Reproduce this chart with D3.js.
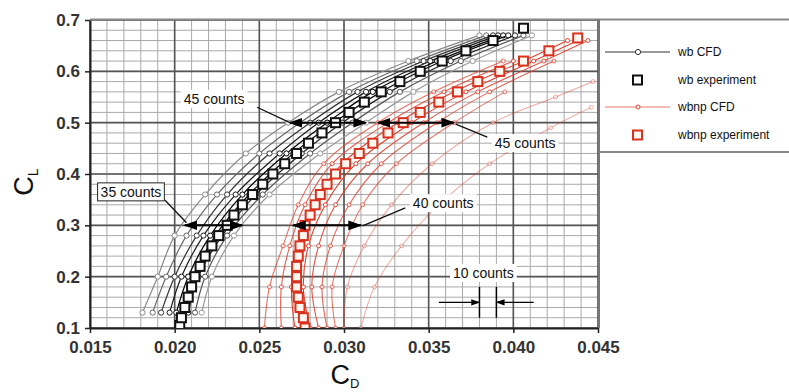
<!DOCTYPE html>
<html>
<head>
<meta charset="utf-8">
<script src="https://cdn.jsdelivr.net/npm/d3@7"></script>
<style>
  body { margin: 0; background: #fff; }
  svg { display: block; font-family: "Liberation Sans", Arial, sans-serif; }
</style>
</head>
<body>
<div id="chart"></div>
<script>
// axis ticks
const cdTicks = [0.015, 0.020, 0.025, 0.030, 0.035, 0.040, 0.045];
const cdLabels = ["0.015", "0.020", "0.025", "0.030", "0.035", "0.040", "0.045"];
const clTicks = [0.1, 0.2, 0.3, 0.4, 0.5, 0.6, 0.7];
const clLabels = ["0.1", "0.2", "0.3", "0.4", "0.5", "0.6", "0.7"];

// wb CFD polars (CL levels shared, CD per solution)
const wbCfdCL = [0.13, 0.20, 0.28, 0.36, 0.44, 0.50, 0.56, 0.62, 0.67];
const wbCfd1 = [0.0181, 0.0190, 0.0200, 0.0218, 0.0242, 0.0267, 0.0297, 0.0338, 0.0380];
const wbCfd2 = [0.0187, 0.0195, 0.0207, 0.0225, 0.0250, 0.0274, 0.0303, 0.0343, 0.0384];
const wbCfd3 = [0.0192, 0.0200, 0.0213, 0.0231, 0.0256, 0.0280, 0.0308, 0.0347, 0.0388];
const wbCfd4 = [0.0197, 0.0204, 0.0217, 0.0236, 0.0262, 0.0285, 0.0313, 0.0351, 0.0391];
const wbCfd5 = [0.0201, 0.0208, 0.0221, 0.0240, 0.0266, 0.0290, 0.0317, 0.0355, 0.0394];
const wbCfd6 = [0.0205, 0.0211, 0.0224, 0.0244, 0.0270, 0.0294, 0.0322, 0.0358, 0.0397];
const wbCfd7 = [0.0208, 0.0214, 0.0228, 0.0248, 0.0275, 0.0299, 0.0327, 0.0363, 0.0401];
const wbCfd8 = [0.0212, 0.0218, 0.0231, 0.0252, 0.0280, 0.0305, 0.0333, 0.0369, 0.0406];
const wbCfd9 = [0.0216, 0.0222, 0.0235, 0.0256, 0.0286, 0.0313, 0.0341, 0.0376, 0.0411];

// wb experiment
const wbExpCL = [0.105, 0.12, 0.14, 0.16, 0.18, 0.20, 0.22, 0.24, 0.26, 0.28, 0.30, 0.32, 0.34, 0.36, 0.38,
  0.40, 0.42, 0.44, 0.46, 0.48, 0.50, 0.52, 0.54, 0.56, 0.58, 0.60, 0.62, 0.64, 0.66, 0.684];
const wbExpCD = [0.0203, 0.0204, 0.0206, 0.0208, 0.0210, 0.0212, 0.0215, 0.0218, 0.0222, 0.0226, 0.0231, 0.0235, 0.0240, 0.0246, 0.0252,
  0.0258, 0.0265, 0.0272, 0.0279, 0.0287, 0.0295, 0.0303, 0.0312, 0.0322, 0.0333, 0.0345, 0.0358, 0.0372, 0.0388, 0.0406];

// wbnp CFD polars
const wbnpCfdCL = [0.10, 0.18, 0.26, 0.34, 0.42, 0.50, 0.56, 0.62, 0.66];
const wbnpCfd1 = [0.0253, 0.0256, 0.0264, 0.0273, 0.0288, 0.0320, 0.0353, 0.0394];
const wbnpCfd2 = [0.0263, 0.0263, 0.0268, 0.0277, 0.0293, 0.0326, 0.0359, 0.0400];
const wbnpCfd3 = [0.0271, 0.0269, 0.0273, 0.0282, 0.0299, 0.0332, 0.0365, 0.0406, 0.0432];
const wbnpCfd4 = [0.0280, 0.0276, 0.0279, 0.0289, 0.0307, 0.0340, 0.0372, 0.0412, 0.0438];
const wbnpCfd5 = [0.0285, 0.0281, 0.0285, 0.0295, 0.0314, 0.0347, 0.0379, 0.0418, 0.0444];
const wbnpCfd6 = [0.0290, 0.0287, 0.0292, 0.0303, 0.0322, 0.0355, 0.0386, 0.0424];
const wbnpCfd7 = [0.0295, 0.0293, 0.0300, 0.0311, 0.0331, 0.0365, 0.0395];
// two outlying solutions
const wbnpCfd8CL = [0.10, 0.18, 0.26, 0.34, 0.42, 0.50, 0.55, 0.58];
const wbnpCfd8 = [0.0300, 0.0302, 0.0312, 0.0328, 0.0352, 0.0388, 0.0425, 0.0447];
const wbnpCfd9CL = [0.10, 0.18, 0.26, 0.34, 0.42, 0.49, 0.53];
const wbnpCfd9 = [0.0310, 0.0318, 0.0334, 0.0356, 0.0386, 0.0422, 0.0446];

// wbnp experiment
const wbnpExpCL = [0.10, 0.12, 0.14, 0.16, 0.18, 0.20, 0.22, 0.24, 0.26, 0.28, 0.30, 0.32, 0.34, 0.36, 0.38,
  0.40, 0.42, 0.44, 0.46, 0.48, 0.50, 0.52, 0.54, 0.56, 0.58, 0.60, 0.62, 0.64, 0.665];
const wbnpExpCD = [0.0277, 0.0276, 0.0274, 0.0273, 0.0272, 0.0272, 0.0272, 0.0273, 0.0274, 0.0276, 0.0277, 0.0280, 0.0283, 0.0286, 0.0290,
  0.0295, 0.0301, 0.0309, 0.0317, 0.0326, 0.0335, 0.0345, 0.0356, 0.0367, 0.0379, 0.0392, 0.0406, 0.0421, 0.0438];

// spread annotations: [cd from, cd to, cl]
const spanWb05 = [0.0268, 0.0313, 0.5];
const spanWbnp05 = [0.0320, 0.0365, 0.5];
const spanWb03 = [0.0206, 0.0240, 0.3];
const spanWbnp03 = [0.0270, 0.0310, 0.3];

const legendNames = ["wb CFD", "wb experiment", "wbnp CFD", "wbnp experiment"];

// ---- layout
const W = 789, H = 392;
const x = d3.scaleLinear().domain([0.015, 0.045]).range([90, 598]);
const y = d3.scaleLinear().domain([0.1, 0.7]).range([328, 20]);
const RED = "#e2412f";

const svg = d3.select("#chart").append("svg").attr("width", W).attr("height", H);

svg.append("defs").append("clipPath").attr("id", "plotclip")
  .append("rect").attr("x", 90).attr("y", 20).attr("width", 508).attr("height", 308);

const defs = svg.select("defs");
defs.append("marker").attr("id", "ah").attr("viewBox", "0 0 10 10")
  .attr("refX", 9).attr("refY", 5).attr("markerWidth", 7).attr("markerHeight", 7)
  .attr("orient", "auto-start-reverse")
  .append("path").attr("d", "M0,1.5L10,5L0,8.5Z").attr("fill", "#000");

// grid
const grid = svg.append("g");
grid.selectAll(".vx").data(x.ticks(30)).join("line")
  .attr("x1", d => x(d)).attr("x2", d => x(d)).attr("y1", y(0.1)).attr("y2", y(0.7))
  .attr("stroke", "#a9a9a9").attr("stroke-width", 1);
grid.selectAll(".hy").data(y.ticks(30)).join("line")
  .attr("y1", d => y(d)).attr("y2", d => y(d)).attr("x1", x(0.015)).attr("x2", x(0.045))
  .attr("stroke", "#a9a9a9").attr("stroke-width", 1);
grid.selectAll(".vX").data(cdTicks).join("line")
  .attr("x1", d => x(d)).attr("x2", d => x(d)).attr("y1", y(0.1)).attr("y2", y(0.7))
  .attr("stroke", "#555").attr("stroke-width", 1.6);
grid.selectAll(".hY").data(clTicks).join("line")
  .attr("y1", d => y(d)).attr("y2", d => y(d)).attr("x1", x(0.015)).attr("x2", x(0.045))
  .attr("stroke", "#555").attr("stroke-width", 1.6);

// axes
const ax = svg.append("g").attr("transform", "translate(0," + y(0.1) + ")")
  .call(d3.axisBottom(x).tickValues(cdTicks).tickFormat((d, i) => cdLabels[i]).tickSize(5).tickSizeOuter(0).tickPadding(8));
const ay = svg.append("g").attr("transform", "translate(" + x(0.015) + ",0)")
  .call(d3.axisLeft(y).tickValues(clTicks).tickFormat((d, i) => clLabels[i]).tickSize(5).tickSizeOuter(0).tickPadding(5));
[ax, ay].forEach(a => {
  a.select(".domain").attr("stroke", "#222").attr("stroke-width", 2);
  a.selectAll(".tick line").attr("stroke", "#222").attr("stroke-width", 1.5);
  a.selectAll("text").attr("fill", "#333").style("font-size", "17px").style("font-weight", "bold")
    .attr("font-family", "Liberation Sans, Arial, sans-serif");
});

// frame top/right + legend box
svg.append("line").attr("x1", x(0.015)).attr("x2", W).attr("y1", 19.5).attr("y2", 19.5)
  .attr("stroke", "#888").attr("stroke-width", 2);
svg.append("line").attr("x1", 599).attr("x2", 599).attr("y1", 19).attr("y2", y(0.1))
  .attr("stroke", "#777").attr("stroke-width", 2);
svg.append("line").attr("x1", 599).attr("x2", W).attr("y1", 152).attr("y2", 152)
  .attr("stroke", "#888").attr("stroke-width", 2);

// curves
const plot = svg.append("g").attr("clip-path", "url(#plotclip)");
const line = d3.line().x(d => x(d[0])).y(d => y(d[1])).curve(d3.curveCatmullRom.alpha(0.5));
const zip = (cd, cl) => cd.map((v, i) => [v, cl[i]]);

const wbCurves = [wbCfd1, wbCfd2, wbCfd3, wbCfd4, wbCfd5, wbCfd6, wbCfd7, wbCfd8, wbCfd9];
const wbShades = ["#8a8a8a", "#6a6a6a", "#333", "#1a1a1a", "#000", "#111", "#222", "#555", "#999"];
wbCurves.forEach((cd, k) => {
  const pts = zip(cd, wbCfdCL);
  plot.append("path").attr("d", line(pts)).attr("fill", "none")
    .attr("stroke", wbShades[k]).attr("stroke-width", 1.2);
  plot.selectAll(null).data(pts).join("circle")
    .attr("cx", d => x(d[0])).attr("cy", d => y(d[1])).attr("r", 2.6)
    .attr("fill", "#fff").attr("stroke", wbShades[k]).attr("stroke-width", 1);
});

plot.selectAll(".wbexp").data(zip(wbExpCD, wbExpCL)).join("rect")
  .attr("x", d => x(d[0]) - 4.5).attr("y", d => y(d[1]) - 4.5)
  .attr("width", 9).attr("height", 9)
  .attr("fill", "#fff").attr("stroke", "#111").attr("stroke-width", 2);

const wbnpCurves = [
  [wbnpCfd1, wbnpCfdCL, 0.75], [wbnpCfd2, wbnpCfdCL, 0.85], [wbnpCfd3, wbnpCfdCL, 1],
  [wbnpCfd4, wbnpCfdCL, 1], [wbnpCfd5, wbnpCfdCL, 0.9], [wbnpCfd6, wbnpCfdCL, 0.8],
  [wbnpCfd7, wbnpCfdCL, 0.7], [wbnpCfd8, wbnpCfd8CL, 0.45], [wbnpCfd9, wbnpCfd9CL, 0.4]
];
wbnpCurves.forEach(([cd, cl, op]) => {
  const pts = zip(cd, cl);
  plot.append("path").attr("d", line(pts)).attr("fill", "none")
    .attr("stroke", RED).attr("stroke-width", 1.1).attr("opacity", op);
  plot.selectAll(null).data(pts).join("circle")
    .attr("cx", d => x(d[0])).attr("cy", d => y(d[1])).attr("r", 2)
    .attr("fill", "#fff").attr("stroke", RED).attr("stroke-width", 1).attr("opacity", op);
});

plot.selectAll(".wbnpexp").data(zip(wbnpExpCD, wbnpExpCL)).join("rect")
  .attr("x", d => x(d[0]) - 4.5).attr("y", d => y(d[1]) - 4.5)
  .attr("width", 9).attr("height", 9)
  .attr("fill", "#fff6f0").attr("stroke", "#d8321f").attr("stroke-width", 2);

// annotations
const ann = svg.append("g");
function span(s) {
  ann.append("line").attr("x1", x(s[0])).attr("x2", x(s[1])).attr("y1", y(s[2])).attr("y2", y(s[2]))
    .attr("stroke", "#000").attr("stroke-width", 2)
    .attr("marker-start", "url(#ah)").attr("marker-end", "url(#ah)");
}
function leader(c0, l0, c1, l1) {
  ann.append("line").attr("x1", x(c0)).attr("y1", y(l0)).attr("x2", x(c1)).attr("y2", y(l1))
    .attr("stroke", "#111").attr("stroke-width", 1.3);
}
function label(txt, cd, cl, boxed) {
  const g = ann.append("g");
  const t = g.append("text").attr("x", x(cd)).attr("y", y(cl)).attr("dy", "0.35em")
    .attr("text-anchor", "middle").style("font-size", "14px").attr("fill", "#111").text(txt);
  const b = t.node().getBBox();
  g.insert("rect", "text").attr("x", b.x - 3).attr("y", b.y - 1).attr("width", b.width + 6).attr("height", b.height + 2)
    .attr("fill", "#fff").attr("stroke", boxed ? "#222" : "none").attr("stroke-width", 1);
}
[spanWb05, spanWbnp05, spanWb03, spanWbnp03].forEach(span);
leader(0.02487, 0.530, 0.0268, 0.5);
leader(0.03846, 0.472, 0.0366, 0.497);
leader(0.01943, 0.349, 0.0207, 0.305);
leader(0.03362, 0.334, 0.0311, 0.299);
label("45 counts", 0.02233, 0.546, false);
label("45 counts", 0.0407, 0.460, false);
label("35 counts", 0.01742, 0.365, true);
label("40 counts", 0.03586, 0.343, false);
label("10 counts", 0.03823, 0.207, false);

// 10 counts scale
[0.038, 0.039].forEach(c => {
  ann.append("line").attr("x1", x(c)).attr("x2", x(c)).attr("y1", y(0.18)).attr("y2", y(0.12))
    .attr("stroke", "#000").attr("stroke-width", 1.5);
});
ann.append("line").attr("x1", x(0.0356)).attr("x2", x(0.038)).attr("y1", y(0.15)).attr("y2", y(0.15))
  .attr("stroke", "#000").attr("stroke-width", 1.3).attr("marker-end", "url(#ah)");
ann.append("line").attr("x1", x(0.0412)).attr("x2", x(0.039)).attr("y1", y(0.15)).attr("y2", y(0.15))
  .attr("stroke", "#000").attr("stroke-width", 1.3).attr("marker-end", "url(#ah)");

// axis titles
const yt = svg.append("text").attr("transform", "translate(33,182) rotate(-90)")
  .attr("text-anchor", "middle").attr("fill", "#111");
yt.append("tspan").style("font-size", "27px").text("C");
yt.append("tspan").style("font-size", "14px").attr("dy", 5).text("L");
const xt = svg.append("text").attr("x", 345).attr("y", 384)
  .attr("text-anchor", "middle").attr("fill", "#111");
xt.append("tspan").style("font-size", "27px").text("C");
xt.append("tspan").style("font-size", "13px").attr("dy", 4).text("D");

// legend
const lg = svg.append("g");
const ly = [52, 80, 107, 135];
lg.append("line").attr("x1", 605).attr("x2", 670).attr("y1", ly[0]).attr("y2", ly[0]).attr("stroke", "#333").attr("stroke-width", 1);
lg.append("circle").attr("cx", 638).attr("cy", ly[0]).attr("r", 2.6).attr("fill", "#fff").attr("stroke", "#333");
lg.append("rect").attr("x", 633).attr("y", ly[1] - 4.5).attr("width", 9).attr("height", 9)
  .attr("fill", "#fff").attr("stroke", "#111").attr("stroke-width", 2);
lg.append("line").attr("x1", 605).attr("x2", 670).attr("y1", ly[2]).attr("y2", ly[2]).attr("stroke", RED).attr("stroke-width", 1).attr("opacity", 0.7);
lg.append("circle").attr("cx", 638).attr("cy", ly[2]).attr("r", 2).attr("fill", "#fff").attr("stroke", RED);
lg.append("rect").attr("x", 633).attr("y", ly[3] - 4.5).attr("width", 9).attr("height", 9)
  .attr("fill", "#fff6f0").attr("stroke", "#d8321f").attr("stroke-width", 2);
lg.selectAll(".lt").data(legendNames).join("text")
  .attr("x", 678).attr("y", (d, i) => ly[i]).attr("dy", "0.35em")
  .style("font-size", "12px").attr("fill", "#111").text(d => d);
</script>
</body>
</html>
